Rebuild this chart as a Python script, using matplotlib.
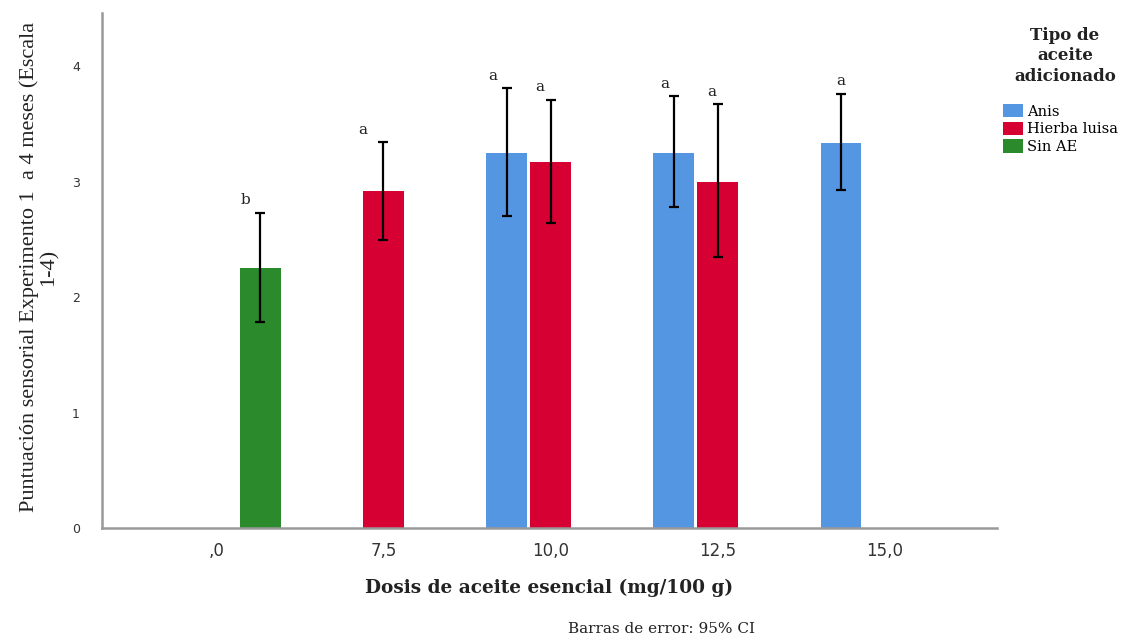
import matplotlib
matplotlib.use("Agg")
import matplotlib.pyplot as plt
import numpy as np
from matplotlib.patches import Patch

# ---- data ----
categories = [",0", "7,5", "10,0", "12,5", "15,0"]
groups = ["Anis", "Hierba luisa", "Sin AE"]
# mean values per group per category (None = no bar)
anis_mean = [None, None, 3.25, 3.25, 3.33]
anis_low = [None, None, 2.70, 2.78, 2.93]
anis_high = [None, None, 3.81, 3.74, 3.76]
hierba_mean = [None, 2.92, 3.17, 3.00, None]
hierba_low = [None, 2.49, 2.64, 2.35, None]
hierba_high = [None, 3.34, 3.71, 3.67, None]
sinae_mean = [2.25, None, None, None, None]
sinae_low = [1.78, None, None, None, None]
sinae_high = [2.73, None, None, None, None]
anis_letters = [None, None, "a", "a", "a"]
hierba_letters = [None, "a", "a", "a", None]
sinae_letters = ["b", None, None, None, None]

colors = ["#5596e3", "#d60032", "#2b8a2b"]
SERIF = "DejaVu Serif"

fig = plt.figure(figsize=(11.28, 6.36), dpi=100)
ax = fig.add_axes([102/1128, 1-528/636, (997-102)/1128, (528-13)/636])

slot = 0.263
width = 0.245
series = [
    (anis_mean, anis_low, anis_high, anis_letters, -slot, [-14, -9, 0]),
    (hierba_mean, hierba_low, hierba_high, hierba_letters, 0.0, [-21, -11, -6]),
    (sinae_mean, sinae_low, sinae_high, sinae_letters, slot, [-15]),
]
x = np.arange(len(categories))
for (means, lows, highs, letters, off, dxs), col in zip(series, colors):
    k = 0
    for i in range(len(categories)):
        m = means[i]
        if m is None:
            continue
        xi = x[i] + off
        ax.bar(xi, m, width=width, color=col, zorder=2)
        ax.errorbar(xi, m, yerr=[[m - lows[i]], [highs[i] - m]], fmt="none",
                    ecolor="black", elinewidth=1.6, capsize=3.5, capthick=1.6, zorder=3)
        if letters[i]:
            dx = dxs[k] if k < len(dxs) else 0
            ax.annotate(letters[i], (xi, highs[i]), xytext=(dx * 0.72, 4),
                        textcoords="offset points", ha="center", va="bottom",
                        fontsize=11, family=SERIF, color="#222222")
        k += 1

ax.set_xlim(-0.683, 4.67)
ax.set_ylim(0, 4.46)
ax.set_xticks(x)
ax.set_xticklabels(categories, fontsize=12, color="#333333", family="DejaVu Sans")
ax.set_yticks([0, 1, 2, 3, 4])
ax.set_yticklabels(["0", "1", "2", "3", "4"], fontsize=9, color="#333333", family="DejaVu Sans")
ax.tick_params(axis="both", length=0)
ax.tick_params(axis="x", pad=10)
ax.tick_params(axis="y", pad=16)
for s in ["top", "right"]:
    ax.spines[s].set_visible(False)
for s in ["left", "bottom"]:
    ax.spines[s].set_color("#999999")
    ax.spines[s].set_linewidth(1.8)

fig.text(549/1128, 1-588/636, "Dosis de aceite esencial (mg/100 g)", ha="center", va="center",
         fontsize=13.3, fontweight="bold", family=SERIF, color="#222222")
fig.text(39/1128, 1-267/636, "Puntuación sensorial Experimento 1  a 4 meses (Escala\n1-4)",
         rotation=90, ha="center", va="center", fontsize=16, family="Liberation Serif",
         color="#222222", linespacing=1.0)

fig.text(662/1128, 1-629/636, "Barras de error: 95% CI", ha="center", va="center",
         fontsize=11, family=SERIF, color="#222222")

fig.text(1065/1128, 1-56/636, "Tipo de\naceite\nadicionado", ha="center", va="center",
         fontsize=12, fontweight="bold", family=SERIF, color="#222222",
         multialignment="center", linespacing=1.25)
handles = [Patch(facecolor=c, edgecolor="none") for c in colors]
leg = fig.legend(handles, groups, loc="upper left", bbox_to_anchor=(1003/1128, 1-104/636),
                 frameon=False, prop={"family": SERIF, "size": 10.5},
                 handlelength=1.35, handleheight=1.0, handletextpad=0.3,
                 labelspacing=0.22, borderaxespad=0, borderpad=0)

fig.savefig("out.png", dpi=100, facecolor="white")
